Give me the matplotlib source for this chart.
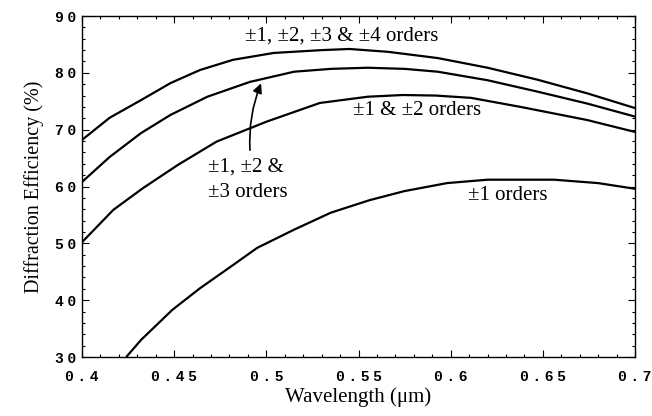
import matplotlib.pyplot as plt
import numpy as np
from matplotlib.ticker import MultipleLocator

# ----- Data -----
wl_4 = [0.400, 0.415, 0.432, 0.448, 0.464, 0.482, 0.504, 0.530, 0.545, 0.566, 0.593, 0.620, 0.647, 0.674, 0.700]
eff_4 = [68.2, 72.1, 75.2, 78.2, 80.5, 82.3, 83.5, 84.0, 84.2, 83.7, 82.6, 80.9, 78.8, 76.4, 73.8]

wl_3 = [0.400, 0.415, 0.432, 0.448, 0.468, 0.491, 0.515, 0.535, 0.555, 0.575, 0.593, 0.620, 0.647, 0.674, 0.700]
eff_3 = [60.8, 65.2, 69.4, 72.6, 75.8, 78.4, 80.2, 80.7, 80.9, 80.7, 80.2, 78.7, 76.7, 74.6, 72.3]

wl_2 = [0.400, 0.417, 0.433, 0.452, 0.473, 0.500, 0.529, 0.555, 0.574, 0.592, 0.611, 0.638, 0.674, 0.700]
eff_2 = [50.2, 55.9, 59.7, 63.8, 67.9, 71.4, 74.7, 75.8, 76.1, 76.0, 75.6, 74.0, 71.7, 69.6]

wl_1 = [0.424, 0.432, 0.449, 0.464, 0.482, 0.495, 0.515, 0.535, 0.556, 0.575, 0.598, 0.620, 0.656, 0.680, 0.700]
eff_1 = [30.0, 33.0, 38.3, 42.1, 46.2, 49.2, 52.4, 55.4, 57.6, 59.2, 60.6, 61.2, 61.2, 60.6, 59.6]

x_ticks = [0.4, 0.45, 0.5, 0.55, 0.6, 0.65, 0.7]
x_tick_labels = ['0.4', '0.45', '0.5', '0.55', '0.6', '0.65', '0.7']
y_ticks = [30, 40, 50, 60, 70, 80, 90]
y_tick_labels = ['30', '40', '50', '60', '70', '80', '90']


def spaced(s):
    # letter-spaced label, like the old plotting package did
    return '\u2005'.join(s)


fig = plt.figure(figsize=(6.52, 4.16), dpi=100)
ax = fig.add_axes([0.1258, 0.1418, 0.8482, 0.8197])

for x, y in [(wl_4, eff_4), (wl_3, eff_3), (wl_2, eff_2), (wl_1, eff_1)]:
    ax.plot(x, y, color='black', lw=1.6, solid_capstyle='butt')

ax.set_xlim(0.4, 0.7)
ax.set_ylim(30, 90)

ax.xaxis.set_minor_locator(MultipleLocator(0.01))
ax.yaxis.set_minor_locator(MultipleLocator(2))
ax.tick_params(which='both', direction='in', top=True, right=True, width=0.8)
ax.tick_params(which='major', length=5)
ax.tick_params(which='minor', length=2.5)
ax.tick_params(axis='x', pad=9)
ax.tick_params(axis='y', pad=4)

tick_font = dict(family=['Liberation Mono', 'DejaVu Sans'], weight='bold', size=10.5)
ax.set_xticks(x_ticks)
ax.set_xticklabels([spaced(s) for s in x_tick_labels], **tick_font)
ax.set_yticks(y_ticks)
ax.set_yticklabels([spaced(s) for s in y_tick_labels], **tick_font)

for s in ax.spines.values():
    s.set_linewidth(1.0)

serif = 'Liberation Serif'
fs = 15
ax.set_xlabel('Wavelength (μm)', family=serif, size=fs, labelpad=3)
ax.set_ylabel('Diffraction Efficiency (%)', family=serif, size=14.5, labelpad=8)

ax.text(0.541, 86.5, '±1, ±2, ±3 & ±4 orders', family=serif, size=fs, ha='center', va='center')
ax.text(0.5817, 73.3, '±1 & ±2 orders', family=serif, size=fs, ha='center', va='center')
ax.text(0.4684, 63.4, '±1, ±2 &', family=serif, size=fs, ha='left', va='center')
ax.text(0.4684, 59.0, '±3 orders', family=serif, size=fs, ha='left', va='center')
ax.text(0.6094, 58.5, '±1 orders', family=serif, size=fs, ha='left', va='center')

ax.annotate('', xy=(0.4977, 78.6), xytext=(0.4912, 65.9),
            arrowprops=dict(arrowstyle='-|>', color='black', lw=1.2,
                            connectionstyle='arc3,rad=-0.12', mutation_scale=14))

fig.savefig('out.png', dpi=100)
